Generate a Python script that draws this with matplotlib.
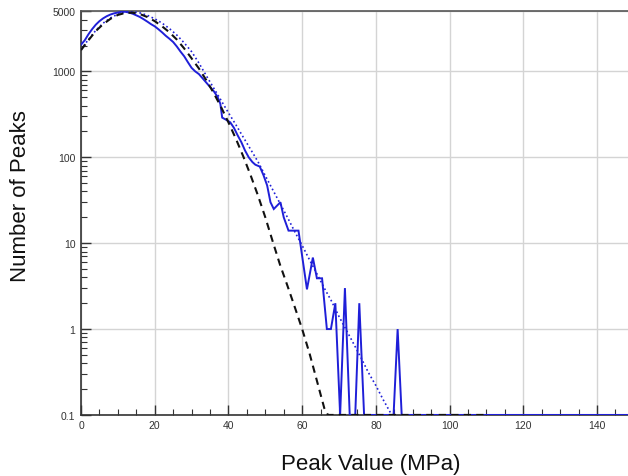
import matplotlib
matplotlib.use("Agg")
import matplotlib.pyplot as plt
from matplotlib.ticker import FixedLocator, LogLocator, NullFormatter, FixedFormatter, MultipleLocator

plt.rcParams['font.family'] = ['Liberation Sans', 'DejaVu Sans']

# Measured peak counts (solid blue); zero counts are drawn on the 0.1 floor
meas_x = [0, 1, 2, 3, 4, 5, 6, 7, 8, 9, 10, 11, 12, 13, 14, 15, 16, 17, 18, 19,
          20, 21, 22, 23, 24, 25, 26, 27, 28, 29, 30, 31, 32, 33, 34, 35, 36, 37,
          37.8, 38.3, 39.6, 40.5, 41.5, 42.5, 43.5, 44.5, 45.5, 46.5, 47.3, 48.5,
          49.5, 50.5, 51.4, 52.3, 54.1, 55.0, 56.3, 59.0, 61.3, 62.9, 64.0, 65.4,
          66.7, 67.8, 69.0, 70.3, 71.6, 72.9, 74.4, 75.5, 76.8, 84.8, 85.9, 87.0, 150]
meas_n = [2050, 2300, 2700, 3100, 3500, 3850, 4150, 4400, 4600, 4750, 4850, 4950,
          4950, 4850, 4700, 4500, 4300, 4050, 3800, 3550, 3350, 3100, 2850, 2600,
          2400, 2200, 1950, 1700, 1500, 1280, 1100, 1000, 930, 830, 740, 660, 590,
          510, 420, 290, 270, 255, 220, 180, 150, 120, 100, 88, 82, 78, 62, 47, 30,
          25, 30, 20, 14, 14, 2.9, 6.8, 3.9, 3.9, 1, 1, 2, 0.1, 3, 0.1, 0.1, 2, 0.1,
          0.1, 1, 0.1, 0.1]

# Theoretical distribution (black dashed)
theo_x = [0, 2, 4, 6, 8, 10, 12, 14, 16, 18, 20, 22, 24, 26, 28, 30, 32, 34, 36,
          38, 40, 42, 44, 46, 48, 50, 52, 54, 56, 58, 60, 62, 64, 66, 67, 110]
theo_n = [1770, 2300, 2950, 3550, 4100, 4550, 4800, 4830, 4650, 4300, 3850, 3350,
          2850, 2350, 1850, 1420, 1080, 790, 560, 385, 255, 165, 103, 62, 36, 20,
          10.5, 5.6, 3.2, 1.8, 1.0, 0.52, 0.25, 0.12, 0.1, 0.1]

# Fitted distribution (blue dotted)
fit_x = [0, 2, 4, 6, 8, 10, 12, 14, 16, 18, 20, 22, 24, 26, 28, 30, 32, 34, 36,
         38, 40, 42, 44, 46, 48, 50, 52, 54, 56, 58, 60, 62, 64, 66, 68, 70, 72,
         74, 76, 78, 80, 82, 84.3]
fit_n = [1800, 2350, 3000, 3650, 4200, 4650, 4900, 4950, 4800, 4500, 4100, 3650,
         3150, 2650, 2150, 1700, 1250, 890, 640, 460, 330, 240, 172, 124, 89, 61,
         42, 29, 20, 13.6, 9.4, 6.4, 4.4, 3.0, 2.1, 1.4, 0.97, 0.67, 0.46, 0.31,
         0.22, 0.15, 0.1]

y_ticks = [0.1, 1, 10, 100, 1000, 5000]
y_tick_labels = ["0.1", "1", "10", "100", "1000", "5000"]
x_ticks = [0, 20, 40, 60, 80, 100, 120, 140]

fig = plt.figure(figsize=(6.28, 4.77), dpi=100)
ax = fig.add_axes([0.129, 0.128, 0.871, 0.846])

ax.plot(meas_x, meas_n, color='#1f1fd8', lw=1.4, solid_joinstyle='miter', zorder=3)
ax.plot(fit_x, fit_n, color='#1f1fd8', lw=1.2, linestyle=(0, (1, 1.6)), zorder=4)
ax.plot(theo_x, theo_n, color='#111111', lw=1.5, linestyle=(0, (3.5, 2.5)), zorder=5)

ax.set_yscale('log')
ax.set_ylim(0.1, 5000)
ax.set_xlim(0, 148.4)

ax.yaxis.set_major_locator(FixedLocator(y_ticks))
ax.yaxis.set_major_formatter(FixedFormatter(y_tick_labels))
ax.yaxis.set_minor_locator(LogLocator(base=10, subs=range(2, 10), numticks=20))
ax.yaxis.set_minor_formatter(NullFormatter())
ax.xaxis.set_major_locator(FixedLocator(x_ticks))
ax.xaxis.set_minor_locator(MultipleLocator(5))

ax.tick_params(which='major', direction='in', length=7, width=1, color='#333333',
               labelsize=7.5, labelcolor='#333333', pad=4)
ax.tick_params(which='minor', direction='in', length=4, width=0.8, color='#333333')
ax.tick_params(axis='x', which='both', top=False)
ax.tick_params(axis='y', which='both', right=False)

ax.grid(True, which='major', color='#d4d4d4', lw=1)
ax.set_axisbelow(True)

for s in ['left', 'bottom']:
    ax.spines[s].set_color('#333333')
    ax.spines[s].set_linewidth(1.2)
ax.spines['top'].set_color('#555555')
ax.spines['top'].set_linewidth(1.2)
ax.spines['right'].set_visible(False)

fig.text(0.032, 0.589, "Number of Peaks", rotation=90, ha='center', va='center',
         fontsize=16, color='#111111')
fig.text(0.59, 0.027, "Peak Value (MPa)", ha='center', va='center',
         fontsize=16, color='#111111')

fig.savefig("out.png", dpi=100)
